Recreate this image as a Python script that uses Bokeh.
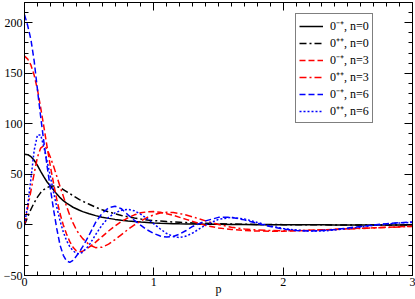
from bokeh.plotting import figure
from bokeh.models import (Range1d, LinearAxis, SingleIntervalTicker, Legend, LegendItem,
                          CustomJSTickFormatter)
from bokeh.embed import file_html
from bokeh.resources import INLINE

# momentum grid
P = [0, 0.025, 0.05, 0.075, 0.1, 0.125, 0.15, 0.175, 0.2, 0.225, 0.25, 0.275, 0.3, 0.325, 0.35, 0.375, 0.4, 0.425, 0.45,
     0.5, 0.55, 0.6, 0.65, 0.7, 0.75, 0.8, 0.85, 0.9, 0.95, 1.0, 1.05, 1.1, 1.15, 1.2, 1.25,
     1.3, 1.4, 1.5, 1.6, 1.7, 1.8, 1.9, 2.0, 2.1, 2.2, 2.3, 2.4, 2.5, 2.6, 2.7, 2.8, 2.9, 3.0]

mp_n0 = [70, 69.5, 67.5, 64, 59, 53, 47.5, 42.5, 38.5, 34.5, 30.5, 27, 24, 21.5, 19.5, 17.5, 16, 14.5, 13.2,
         11, 9.2, 7.7, 6.5, 5.5, 4.6, 3.9, 3.3, 2.8, 2.4, 2.0, 1.7, 1.5, 1.3, 1.1, 1.0,
         0.9, 0.7, 0.6, 0.5, 0.4, 0.3, 0.25, 0.2, 0.15, 0.1, 0.1, 0.05, 0.05, 0, 0, 0, 0, 0]

pp_n0 = [0, 8, 15.5, 22, 27.5, 32, 35, 37, 38.2, 38.5, 38, 37, 35, 33, 31, 29, 27, 25, 23.5,
         20.5, 17.5, 15, 13, 11, 9.4, 8, 6.8, 5.8, 5, 4.3, 3.8, 3.3, 2.9, 2.6, 2.3,
         2.0, 1.6, 1.2, 0.9, 0.7, 0.5, 0.4, 0.3, 0.2, 0.1, 0.1, 0, 0, 0, 0, 0, 0, 0]

mp_n3 = [167, 164, 158, 148, 134, 116, 97, 77, 58, 41, 25, 11, 0, -9, -16.5, -22, -25.5, -26.5, -26,
         -22, -17, -11.5, -6, -1, 3.5, 7, 10, 12, 13, 13.2, 12.5, 11, 9.5, 7.5, 5.5,
         3.5, -0.5, -3, -4.5, -5.5, -6, -6.2, -6.2, -5.8, -5.3, -4.8, -4.3, -3.8, -3.3, -2.8, -2.3, -1.8, -1.3]

pp_n3 = [0, 17, 34, 51, 67, 76, 78.5, 75, 67, 58, 48, 38, 28.5, 18.5, 9.5, 2, -4.5, -9.5, -13.5,
         -19.5, -22.5, -22, -19, -14.5, -9.5, -4.5, 0, 4, 7.5, 10, 11.8, 12.5, 12.3, 11.3, 9.8,
         8, 4, 0.5, -2.3, -4, -5, -5.5, -5.7, -5.6, -5.3, -4.9, -4.5, -4, -3.5, -3, -2.5, -2, -1.5]

mp_n6 = [208, 197, 183, 162, 134, 107, 82, 58, 36, 15, -4, -20, -30, -35.5, -37, -35, -31, -26.5, -21.5,
         -10, 2.5, 11.5, 17, 18.5, 16, 10, 4.5, -0.5, -5, -8.5, -11, -12, -11.5, -9, -5.5,
         -1.5, 4, 7.5, 7.5, 5, 1.5, -1.5, -4, -5.5, -6, -5.5, -4.5, -3, -1.5, 0, 1.2, 2.2, 3]

pp_n6 = [0, 20, 46, 74, 89, 89, 77, 63, 48, 32, 17.5, 4, -7, -15.5, -21.5, -25.5, -28, -28.5, -27,
         -20, -9.5, 0, 7.5, 12, 14.5, 15.5, 14, 10.5, 6, 1, -4, -8.5, -11.5, -12.5, -11,
         -8, 0, 5.5, 7.5, 6, 2.5, -1, -3.5, -5, -6, -6, -5, -3.5, -2, -0.5, 1, 2, 2.5]

labels = ["0\u207b\u207a, n=0", "0\u207a\u207a, n=0", "0\u207b\u207a, n=3",
          "0\u207a\u207a, n=3", "0\u207b\u207a, n=6", "0\u207a\u207a, n=6"]
x_title = "p"

FONT = "Liberation Serif"

p = figure(width=415, height=299, output_backend="svg", toolbar_location=None,
           x_range=Range1d(0, 3), y_range=Range1d(-50, 220),
           min_border_left=21, min_border_right=3, min_border_top=2, min_border_bottom=24,
           x_axis_label=x_title)
p.grid.visible = False
p.outline_line_color = None
p.background_fill_color = "white"

styles = [
    (mp_n0, "black", "solid"),
    (pp_n0, "black", "7 3 2 3"),
    (mp_n3, "#ff0000", "6 3"),
    (pp_n3, "#ff0000", "7 3 2 3"),
    (mp_n6, "#0000ff", "6 3"),
    (pp_n6, "#0000ff", "2 2"),
]
items = []
for (ys, col, dash), lab in zip(styles, labels):
    r = p.line(P, ys, line_color=col, line_width=1.5, line_dash=dash)
    items.append(LegendItem(label=lab, renderers=[r]))

def style_axis(ax, show_labels=True):
    ax.axis_line_color = "black"
    ax.axis_line_width = 1
    ax.major_tick_in = 8
    ax.major_tick_out = 0
    ax.minor_tick_in = 4
    ax.minor_tick_out = 0
    ax.major_tick_line_color = "black"
    ax.minor_tick_line_color = "black"
    ax.major_label_text_font = FONT
    ax.major_label_text_color = "black"
    ax.major_label_text_font_size = "12px"
    if show_labels:
        ax.major_label_standoff = 3
    else:
        ax.formatter = CustomJSTickFormatter(code="return '';")
        ax.major_label_standoff = 0

p.xaxis.ticker = SingleIntervalTicker(interval=1, num_minor_ticks=10)
p.yaxis.ticker = SingleIntervalTicker(interval=50, num_minor_ticks=5)
for ax in p.xaxis + p.yaxis:
    style_axis(ax)
p.yaxis.major_label_standoff = 2
p.xaxis.major_label_standoff = 2
p.xaxis.axis_label_text_font = FONT
p.xaxis.axis_label_text_font_size = "12px"
p.xaxis.axis_label_text_font_style = "normal"
p.xaxis.axis_label_text_color = "black"
p.xaxis.axis_label_standoff = -7

top = LinearAxis(ticker=SingleIntervalTicker(interval=1, num_minor_ticks=10))
style_axis(top, False)
p.add_layout(top, "above")
right = LinearAxis(ticker=SingleIntervalTicker(interval=50, num_minor_ticks=5))
style_axis(right, False)
p.add_layout(right, "right")

legend = Legend(items=items, location=(271, 152))
legend.label_text_font = FONT
legend.label_text_font_size = "12px"
legend.label_text_line_height = 1.0
legend.label_text_color = "black"
legend.glyph_width = 24
legend.glyph_height = 14
legend.label_height = 14
legend.spacing = -1
legend.padding = 3
legend.margin = 0
legend.label_standoff = 7
legend.border_line_color = "black"
legend.border_line_width = 1
legend.background_fill_color = "white"
legend.background_fill_alpha = 1
p.add_layout(legend)

open("out.html", "w").write(file_html(p, INLINE))
